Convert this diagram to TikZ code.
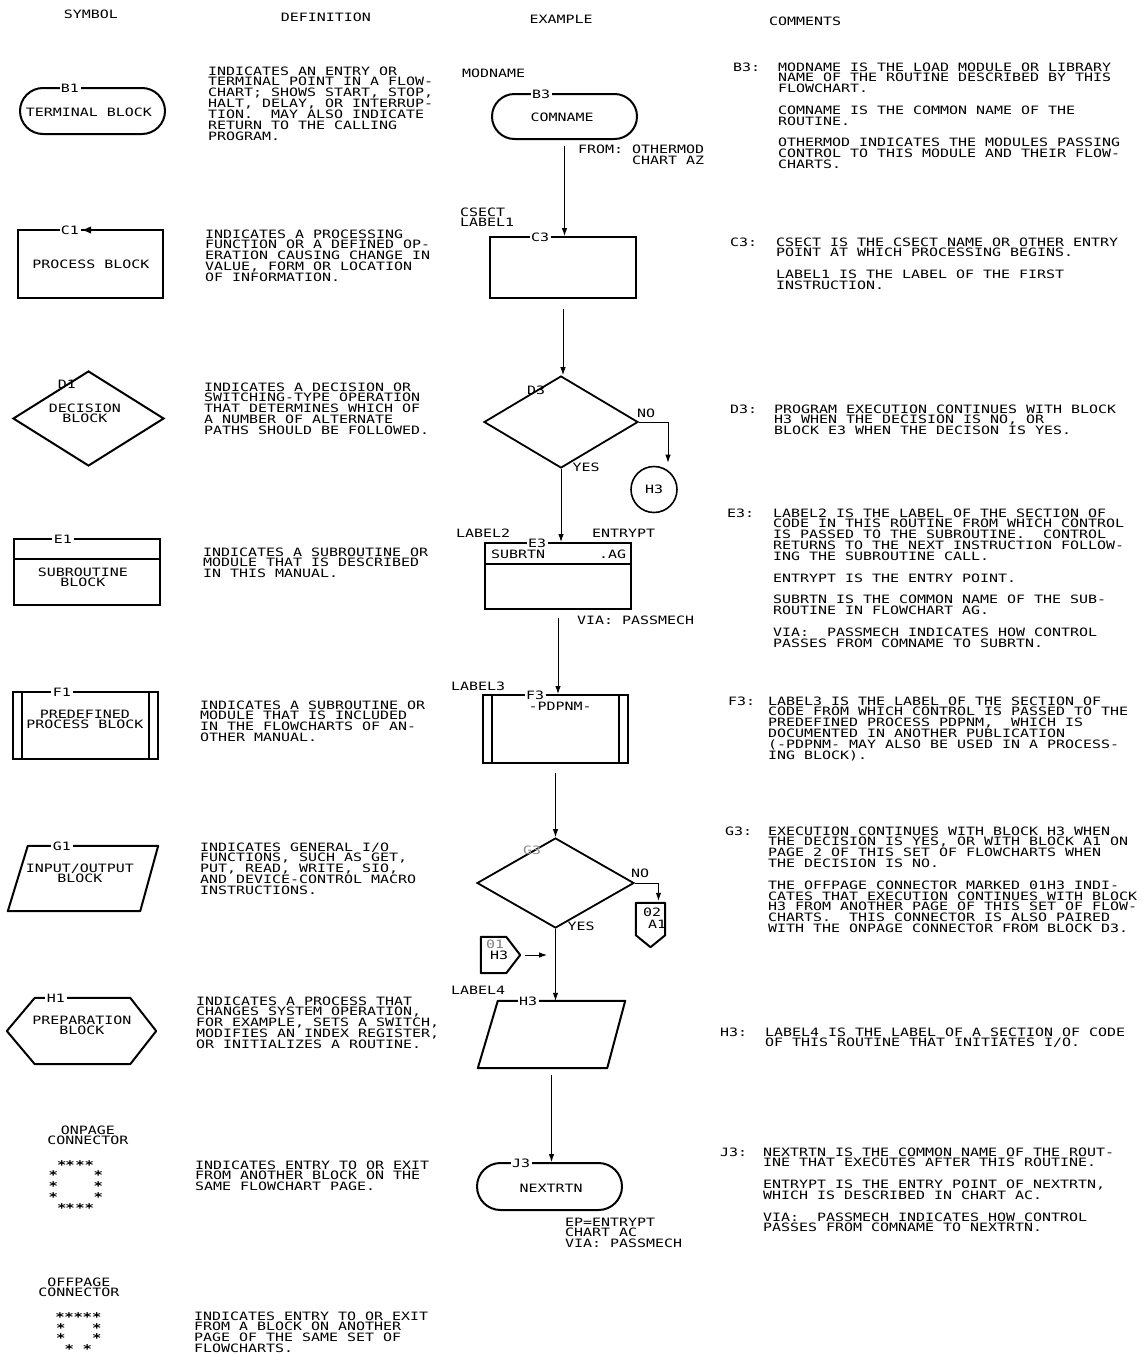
\documentclass[tikz,border=0pt]{standalone}
\usepackage{fontspec}
\newfontfamily\ibm[FakeStretch=1.3]{DejaVu Sans Mono}
\usetikzlibrary{shapes.geometric,shapes.misc,arrows.meta}
\frenchspacing
\newcommand\lns[1]{\vtop{\lineskiplimit=-100pt\relax\lineskip=0pt\relax\let\\\cr\halign{##\hfil\cr#1\crcr}}}
\newcommand\clns[1]{\vtop{\lineskiplimit=-100pt\relax\lineskip=0pt\relax\let\\\cr\halign{\hfil##\hfil\cr#1\crcr}}}
\begin{document}
\begin{tikzpicture}[x=1pt,y=-1pt,
  fnt/.style={font=\ibm\fontsize{11.5}{10.85}\selectfont},
  txt/.style={fnt, inner sep=0pt, anchor=base west},
  ctxt/.style={fnt, inner sep=0pt, anchor=base},
  lbl/.style={fnt, inner xsep=1.5pt, inner ysep=0.5pt, fill=white, text height=8.4pt, text depth=0pt},
  ilbl/.style={fnt, inner sep=0pt, text height=8.4pt, text depth=0pt},
  blk/.style={draw, line width=2pt, inner sep=0pt},
  bbox/.style={inner sep=0pt, draw=none},
  outl/.style={line width=2pt, line join=round},
  conn/.style={line width=0.9pt, -{Latex[length=8pt,width=5.5pt]}},
  star/.style={font=\ibm\bfseries\fontsize{12}{12}\selectfont, inner sep=0pt, anchor=base, yshift=-7pt},
]
\useasboundingbox (0,0) rectangle (1141,1355);
\fill[white] (0,0) rectangle (1141,1355);

% ---------- headers
\node[ctxt] (hSym) at (91,18) {SYMBOL};
\node[ctxt] (hDef) at (326,21) {DEFINITION};
\node[ctxt] (hEx) at (561,23) {EXAMPLE};
\node[ctxt] (hCom) at (805,25) {COMMENTS};

% ---------- symbol column
\node[blk, rounded rectangle, minimum width=145, minimum height=46] (sB1) at (92.5,111) {};
\node[lbl] (lB1) at (70,88) {B1};
\node[ctxt] (tB1) at (89,116) {TERMINAL BLOCK};

\node[blk, rectangle, minimum width=145, minimum height=68] (sC1) at (90.5,264) {};
\node[lbl] (lC1) at (70,230) {C1};
\fill (83,230) -- (91,226.5) -- (91,233.5) -- cycle;
\node[ctxt] (tC1) at (91,268) {PROCESS BLOCK};

\node[blk, diamond, minimum width=151, minimum height=95] (sD1) at (88.5,418.5) {};
\node[ilbl] (lD1) at (67,384) {D1};
\node[ctxt] (tD1) at (85,412) {\clns{DECISION\\BLOCK}};

\node[blk, minimum width=146, minimum height=66] (sE1) at (87,572) {};
\draw[outl] ([yshift=-21pt]sE1.north west) -- ([yshift=-21pt]sE1.north east);
\node[lbl] (lE1) at (63,539) {E1};
\node[ctxt] (tE1) at (83,576) {\clns{SUBROUTINE\\BLOCK}};

\node[blk, minimum width=145, minimum height=67] (sF1) at (85.5,725.5) {};
\draw[outl] ([xshift=10pt]sF1.north west) -- ([xshift=10pt]sF1.south west)
  ([xshift=-10pt]sF1.north east) -- ([xshift=-10pt]sF1.south east);
\node[lbl] (lF1) at (62,692) {F1};
\node[ctxt] (tF1) at (85,718) {\clns{PREDEFINED\\PROCESS BLOCK}};

\node[bbox, minimum width=150, minimum height=65] (sG1) at (83,878.5) {};
\draw[outl] ([xshift=20pt]sG1.north west) -- (sG1.north east) -- ([xshift=-18pt]sG1.south east) -- (sG1.south west) -- cycle;
\node[lbl] (lG1) at (62,846) {G1};
\node[ctxt] (tG1) at (80,872) {\clns{INPUT/OUTPUT\\BLOCK}};

\node[bbox, minimum width=149, minimum height=66] (sH1) at (81.5,1031) {};
\draw[outl] ([xshift=28pt]sH1.north west) -- ([xshift=-26pt]sH1.north east) -- (sH1.east) -- ([xshift=-26pt]sH1.south east) -- ([xshift=28pt]sH1.south west) -- (sH1.west) -- cycle;
\node[lbl] (lH1) at (56,998) {H1};
\node[ctxt] (tH1) at (82,1024) {\clns{PREPARATION\\BLOCK}};

\node[ctxt] (tOn) at (88,1134) {\clns{ONPAGE\\CONNECTOR}};
\foreach \x [count=\i] in {61.7,70,80,89.3} {
  \node[star] (onT\i) at (\x,1162) {*};
  \node[star] (onB\i) at (\x,1205) {*};
}
\foreach \y [count=\i] in {1172.7,1183.3,1194} {
  \node[star] (onL\i) at (53.3,\y) {*};
  \node[star] (onR\i) at (98.3,\y) {*};
}

\node[ctxt] (tOff) at (79,1286) {\clns{OFFPAGE\\CONNECTOR}};
\foreach \x [count=\i] in {60,69,78.3,87.3,96.7} {
  \node[star] (ofT\i) at (\x,1314) {*};
}
\foreach \y [count=\i] in {1325,1335} {
  \node[star] (ofL\i) at (60.7,\y) {*};
  \node[star] (ofR\i) at (96.7,\y) {*};
}
\node[star] (ofB1) at (69.3,1346) {*};
\node[star] (ofB2) at (87.3,1346) {*};

% ---------- definition column
\node[txt] (dB) at (208,75) {\lns{INDICATES AN ENTRY OR\\TERMINAL POINT IN A FLOW-\\CHART; SHOWS START, STOP,\\HALT, DELAY, OR INTERRUP-\\TION.~ MAY ALSO INDICATE\\RETURN TO THE CALLING\\PROGRAM.}};
\node[txt] (dC) at (205,238) {\lns{INDICATES A PROCESSING\\FUNCTION OR A DEFINED OP-\\ERATION CAUSING CHANGE IN\\VALUE, FORM OR LOCATION\\OF INFORMATION.}};
\node[txt] (dD) at (204,391) {\lns{INDICATES A DECISION OR\\SWITCHING-TYPE OPERATION\\THAT DETERMINES WHICH OF\\A NUMBER OF ALTERNATE\\PATHS SHOULD BE FOLLOWED.}};
\node[txt] (dE) at (203,556) {\lns{INDICATES A SUBROUTINE OR\\MODULE THAT IS DESCRIBED\\IN THIS MANUAL.}};
\node[txt] (dF) at (200,709) {\lns{INDICATES A SUBROUTINE OR\\MODULE THAT IS INCLUDED\\IN THE FLOWCHARTS OF AN-\\OTHER MANUAL.}};
\node[txt] (dG) at (200,851) {\lns{INDICATES GENERAL I/O\\FUNCTIONS, SUCH AS GET,\\PUT, READ, WRITE, SIO,\\AND DEVICE-CONTROL MACRO\\INSTRUCTIONS.}};
\node[txt] (dH) at (196,1005) {\lns{INDICATES A PROCESS THAT\\CHANGES SYSTEM OPERATION,\\FOR EXAMPLE, SETS A SWITCH,\\MODIFIES AN INDEX REGISTER,\\OR INITIALIZES A ROUTINE.}};
\node[txt] (dOn) at (195,1169) {\lns{INDICATES ENTRY TO OR EXIT\\FROM ANOTHER BLOCK ON THE\\SAME FLOWCHART PAGE.}};
\node[txt] (dOff) at (194,1320) {\lns{INDICATES ENTRY TO OR EXIT\\FROM A BLOCK ON ANOTHER\\PAGE OF THE SAME SET OF\\FLOWCHARTS.}};

% ---------- example column
\node[txt] (xMod) at (462,77) {MODNAME};
\node[blk, rounded rectangle, minimum width=145, minimum height=45] (b3) at (564.5,116.5) {};
\node[lbl] (lb3) at (541,94) {B3};
\node[ctxt] (tb3) at (562,121) {COMNAME};
\node[txt] (xFrom) at (578,153) {FROM: OTHERMOD};
\node[txt] (xAz) at (632,164) {CHART AZ};

\node[txt] (xCsect) at (460,216) {\lns{CSECT\\LABEL1}};
\node[blk, minimum width=146, minimum height=61] (c3) at (563,267.5) {};
\node[lbl] (lc3) at (540,237) {C3};

\node[blk, diamond, minimum width=154, minimum height=92, line width=1.8pt] (d3) at (561,422) {};
\node[ilbl] (ld3) at (536,390) {D3};
\node[ctxt] (xNo1) at (646,417) {NO};
\node[ctxt] (xYes1) at (586,471) {YES};
\node[blk, circle, minimum size=46, line width=1.6pt, fnt] (h3c) at (654,489.5) {H3};

\node[txt] (xL2) at (456,537) {LABEL2};
\node[txt] (xEp) at (592,537) {ENTRYPT};
\node[blk, minimum width=146, minimum height=66] (e3) at (558,576) {};
\draw[outl] ([yshift=-22pt]e3.north west) -- ([yshift=-22pt]e3.north east);
\node[lbl] (le3) at (537,543) {E3};
\node[txt] (xSub) at (491,558) {SUBRTN};
\node[txt] (xAg) at (599,558) {.AG};
\node[txt] (xVia1) at (577,624) {VIA: PASSMECH};

\node[txt] (xL3) at (451,690) {LABEL3};
\node[blk, minimum width=145, minimum height=68] (f3) at (555.5,729) {};
\draw[outl] ([xshift=10pt]f3.north west) -- ([xshift=10pt]f3.south west)
  ([xshift=-10pt]f3.north east) -- ([xshift=-10pt]f3.south east);
\node[lbl] (lf3) at (535,695) {F3};
\node[ctxt] (xPd) at (560,710) {-PDPNM-};

\node[blk, diamond, minimum width=157, minimum height=90, line width=1.8pt] (g3) at (555.5,883) {};
\node[ilbl, text=black!45] (lg3) at (532,850) {G3};
\node[ctxt] (xNo2) at (640,877) {NO};
\node[ctxt] (xYes2) at (581,930) {YES};

\node[bbox, minimum width=29, minimum height=44] (off2) at (650.5,925) {};
\draw[outl] (off2.north west) -- (off2.north east) -- ([yshift=12pt]off2.south east) -- (off2.south) -- ([yshift=12pt]off2.south west) -- cycle;
\node[txt] (x02) at (643,916) {02};
\node[txt] (xA1) at (648,928) {A1};

\node[bbox, minimum width=39, minimum height=36] (off1) at (500.5,955) {};
\draw[outl] (off1.north west) -- ([xshift=-14pt]off1.north east) -- (off1.east) -- ([xshift=-14pt]off1.south east) -- (off1.south west) -- cycle;
\node[txt, text=black!50] (x01) at (486,948) {01};
\node[txt] (xH3b) at (490,959) {H3};
\coordinate (m1) at (547,955);

\node[txt] (xL4) at (451,994) {LABEL4};
\node[bbox, minimum width=147, minimum height=67] (h3) at (551.5,1034.5) {};
\draw[outl] ([xshift=20pt]h3.north west) -- (h3.north east) -- ([xshift=-18pt]h3.south east) -- (h3.south west) -- cycle;
\node[lbl] (lh3) at (528,1001) {H3};

\node[blk, rounded rectangle, minimum width=145, minimum height=47] (j3) at (549.5,1186.5) {};
\node[lbl] (lj3) at (521,1163) {J3};
\node[ctxt] (tj3) at (551,1192) {NEXTRTN};
\node[txt] (xEp2) at (565,1226) {\lns{EP=ENTRYPT\\CHART AC\\VIA: PASSMECH}};

% connectors
\draw[conn, shorten <=6pt] (b3.south) -- (b3.south |- c3.north);
\draw[conn, shorten <=10pt] (c3.south) -- (c3.south |- d3.north);
\draw[conn] (d3.south) -- (d3.south |- e3.north);
\draw[conn] (d3.east) -| ([xshift=14pt,yshift=3pt]h3c.north);
\draw[conn, shorten <=8pt] (e3.south) -- (e3.south |- f3.north);
\draw[conn, shorten <=9pt] (f3.south) -- (f3.south |- g3.north);
\draw[conn] (g3.south) -- (g3.south |- h3.north);
\draw[conn] (g3.east) -| ([xshift=8pt,yshift=2pt]off2.north);
\draw[conn, shorten <=5pt] (off1.east) -- (m1);
\draw[conn, shorten <=7pt] (h3.south) -- (h3.south |- j3.north);

% ---------- comments column
\node[txt] (cB) at (733,71) {B3:};
\node[txt] (cBt) at (778,71) {\lns{MODNAME IS THE LOAD MODULE OR LIBRARY\\NAME OF THE ROUTINE DESCRIBED BY THIS\\FLOWCHART.\\\\COMNAME IS THE COMMON NAME OF THE\\ROUTINE.\\\\OTHERMOD INDICATES THE MODULES PASSING\\CONTROL TO THIS MODULE AND THEIR FLOW-\\CHARTS.}};
\node[txt] (cC) at (730,246) {C3:};
\node[txt] (cCt) at (776,246) {\lns{CSECT IS THE CSECT NAME OR OTHER ENTRY\\POINT AT WHICH PROCESSING BEGINS.\\\\LABEL1 IS THE LABEL OF THE FIRST\\INSTRUCTION.}};
\node[txt] (cD) at (730,413) {D3:};
\node[txt] (cDt) at (774,413) {\lns{PROGRAM EXECUTION CONTINUES WITH BLOCK\\H3 WHEN THE DECISION IS NO, OR\\BLOCK E3 WHEN THE DECISON IS YES.}};
\node[txt] (cE) at (727,517) {E3:};
\node[txt] (cEt) at (773,517) {\lns{LABEL2 IS THE LABEL OF THE SECTION OF\\CODE IN THIS ROUTINE FROM WHICH CONTROL\\IS PASSED TO THE SUBROUTINE.~ CONTROL\\RETURNS TO THE NEXT INSTRUCTION FOLLOW-\\ING THE SUBROUTINE CALL.\\\\ENTRYPT IS THE ENTRY POINT.\\\\SUBRTN IS THE COMMON NAME OF THE SUB-\\ROUTINE IN FLOWCHART AG.\\\\VIA:~ PASSMECH INDICATES HOW CONTROL\\PASSES FROM COMNAME TO SUBRTN.}};
\node[txt] (cF) at (728,705) {F3:};
\node[txt] (cFt) at (768,705) {\lns{LABEL3 IS THE LABEL OF THE SECTION OF\\CODE FROM WHICH CONTROL IS PASSED TO THE\\PREDEFINED PROCESS PDPNM,~ WHICH IS\\DOCUMENTED IN ANOTHER PUBLICATION\\(-PDPNM- MAY ALSO BE USED IN A PROCESS-\\ING BLOCK).}};
\node[txt] (cG) at (725,835) {G3:};
\node[txt] (cGt) at (768,835) {\lns{EXECUTION CONTINUES WITH BLOCK H3 WHEN\\THE DECISION IS YES, OR WITH BLOCK A1 ON\\PAGE 2 OF THIS SET OF FLOWCHARTS WHEN\\THE DECISION IS NO.\\\\THE OFFPAGE CONNECTOR MARKED 01H3 INDI-\\CATES THAT EXECUTION CONTINUES WITH BLOCK\\H3 FROM ANOTHER PAGE OF THIS SET OF FLOW-\\CHARTS.~ THIS CONNECTOR IS ALSO PAIRED\\WITH THE ONPAGE CONNECTOR FROM BLOCK D3.}};
\node[txt] (cH) at (720,1036) {H3:};
\node[txt] (cHt) at (765,1036) {\lns{LABEL4 IS THE LABEL OF A SECTION OF CODE\\OF THIS ROUTINE THAT INITIATES I/O.}};
\node[txt] (cJ) at (720,1156) {J3:};
\node[txt] (cJt) at (763,1156) {\lns{NEXTRTN IS THE COMMON NAME OF THE ROUT-\\INE THAT EXECUTES AFTER THIS ROUTINE.\\\\ENTRYPT IS THE ENTRY POINT OF NEXTRTN,\\WHICH IS DESCRIBED IN CHART AC.\\\\VIA:~ PASSMECH INDICATES HOW CONTROL\\PASSES FROM COMNAME TO NEXTRTN.}};
\end{tikzpicture}
\end{document}
